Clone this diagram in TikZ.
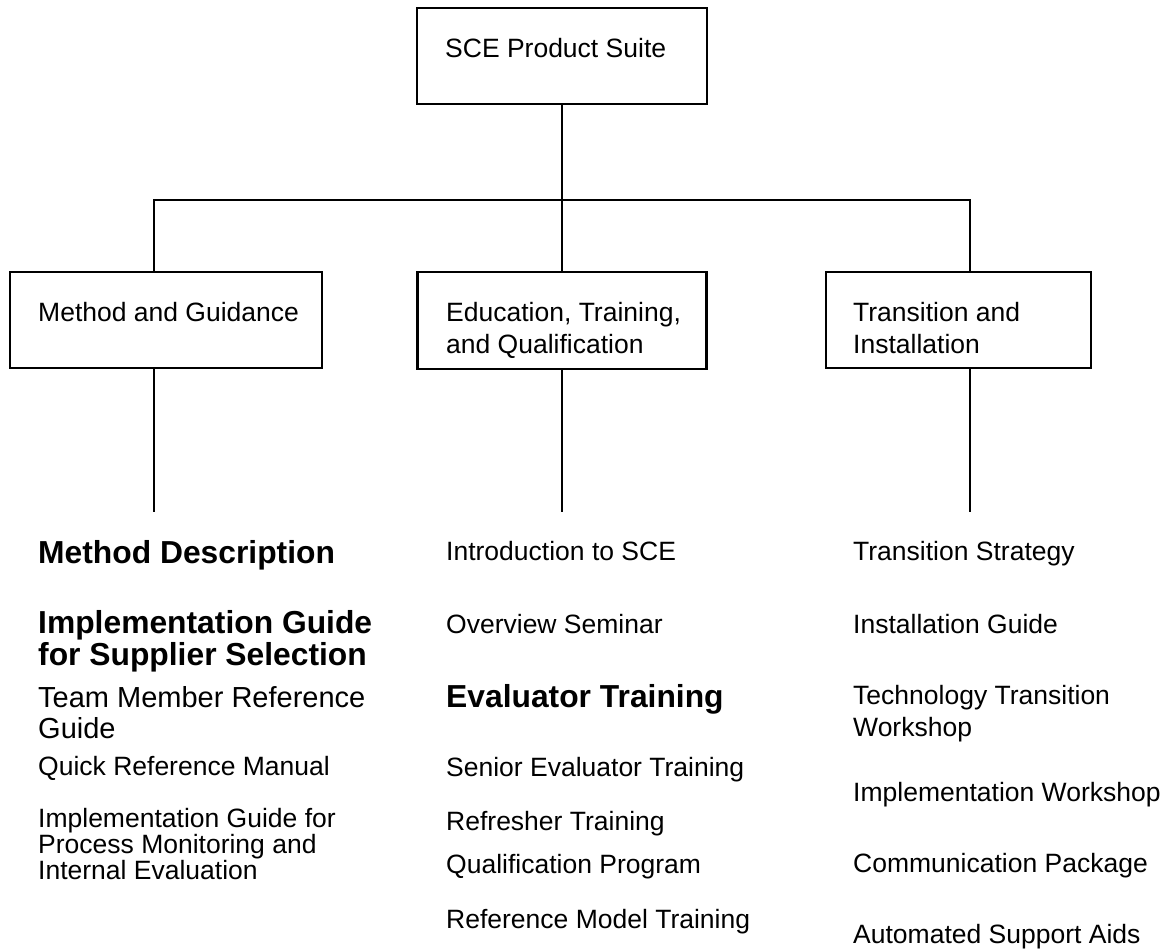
\documentclass[tikz,border=0pt]{standalone}
\usepackage{fontspec}
\setmainfont{Liberation Sans}
\tikzset{
    BX/.style ={rectangle,draw,line width=2.7pt,outer sep=0pt,inner sep=0pt},
    TX/.style ={anchor=base west,inner sep=0pt,align=left,font=\fontsize{26.5}{31.8}\selectfont},
    TB/.style ={anchor=base west,inner sep=0pt,align=left,font=\fontsize{31.8}{32}\selectfont\bfseries},
    TM/.style ={anchor=base west,inner sep=0pt,align=left,font=\fontsize{29}{31}\selectfont},
    TS/.style ={anchor=base west,inner sep=0pt,align=left,font=\fontsize{26.5}{24.5}\selectfont},
    LN/.style ={line width=2.7pt}}

\begin{document}
\begin{tikzpicture}[x=1pt,y=-1pt]
        \useasboundingbox (0,0) rectangle (1169,951);
        % boxes
        \node[BX,minimum width=290pt,minimum height=96pt] (suite) at(562,56){};
        \node[BX,minimum width=312pt,minimum height=96pt] (mg) at(166,320){};
        \node[BX,minimum width=289pt,minimum height=97pt] (etq) at(562,320.5){};
        \node[BX,minimum width=265pt,minimum height=96pt] (ti) at(958.5,320){};
        % box texts (multi-line: base is the last line)
        \node[TX] (suitet) at(445,57){SCE Product Suite};
        \node[TX] (mgt) at(38,321){Method and Guidance};
        \node[TX] (etqt) at(446,353){Education, Training,\\and Qualification};
        \node[TX] (tit) at(853,353){Transition and\\Installation};
        % connectors
        \coordinate (hub) at(562,200);
        \coordinate (mgup) at(154,200);
        \coordinate (tiup) at(970,200);
        \coordinate (mgdn) at(154,512);
        \coordinate (etqdn) at(562,512);
        \coordinate (tidn) at(970,512);
        \draw[LN] (suite) -- (etq);
        \draw[LN] (mg.north -| mgup) |- (hub) -| (ti.north -| tiup);
        \draw[LN] (mg.south -| mgdn) -- (mgdn);
        \draw[LN] (etq.south -| etqdn) -- (etqdn);
        \draw[LN] (ti.south -| tidn) -- (tidn);
        % method and guidance
        \node[TB] (m1) at(38,563){Method Description};
        \node[TB] (m2) at(38,665){Implementation Guide\\for Supplier Selection};
        \node[TM] (m3) at(38,738){Team Member Reference\\Guide};
        \node[TX] (m4) at(38,775){Quick Reference Manual};
        \node[TS] (m5) at(38,879){Implementation Guide for\\Process Monitoring and\\Internal Evaluation};
        % education, training, and qualification
        \node[TX] (e1) at(446,560){Introduction to SCE};
        \node[TX] (e2) at(446,633){Overview Seminar};
        \node[TB] (e3) at(446,707){Evaluator Training};
        \node[TX] (e4) at(446,776){Senior Evaluator Training};
        \node[TX] (e5) at(446,830){Refresher Training};
        \node[TX] (e6) at(446,873){Qualification Program};
        \node[TX] (e7) at(446,928){Reference Model Training};
        % transition and installation
        \node[TX] (t1) at(853,560){Transition Strategy};
        \node[TX] (t2) at(853,633){Installation Guide};
        \node[TX] (t3) at(853,736){Technology Transition\\Workshop};
        \node[TX] (t4) at(853,801){Implementation Workshop};
        \node[TX] (t5) at(853,872){Communication Package};
        \node[TX] (t6) at(853,943){Automated Support Aids};
    \end{tikzpicture}
\end{document}
